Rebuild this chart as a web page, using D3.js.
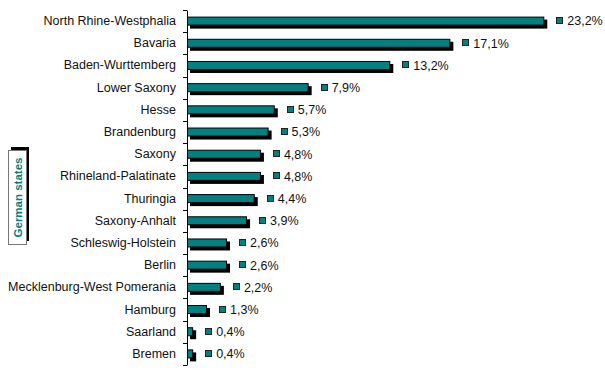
<!DOCTYPE html>
<html><head><meta charset="utf-8">
<script src="https://cdn.jsdelivr.net/npm/d3@7"></script>
<style>body{margin:0;background:#fff}svg{display:block}text{font-family:"Liberation Sans",Arial,sans-serif}</style>
</head><body>
<script>
const states = ["North Rhine-Westphalia","Bavaria","Baden-Wurttemberg","Lower Saxony","Hesse","Brandenburg","Saxony","Rhineland-Palatinate","Thuringia","Saxony-Anhalt","Schleswig-Holstein","Berlin","Mecklenburg-West Pomerania","Hamburg","Saarland","Bremen"];
const shares = [23.2,17.1,13.2,7.9,5.7,5.3,4.8,4.8,4.4,3.9,2.6,2.6,2.2,1.3,0.4,0.4];
const valueLabels = ["23,2%","17,1%","13,2%","7,9%","5,7%","5,3%","4,8%","4,8%","4,4%","3,9%","2,6%","2,6%","2,2%","1,3%","0,4%","0,4%"];
const axisTitle = "German states";

const W=605,H=377, teal="#008080";
const svg=d3.select("body").append("svg").attr("width",W).attr("height",H);
const x=d3.scaleLinear().domain([0,25]).range([187,187+25*15.4]);
const y=d3.scaleBand().domain(states).range([10,365]);
const bh=9;

const g=svg.append("g");
g.selectAll("rect.sh").data(states).join("rect")
 .attr("x",x(0)+3).attr("y",d=>y(d)+y.bandwidth()/2-bh/2+3)
 .attr("width",(d,i)=>x(shares[i])-x(0)).attr("height",bh).attr("fill","#000");
g.selectAll("rect.bar").data(states).join("rect")
 .attr("x",x(0)+0.5).attr("y",d=>y(d)+y.bandwidth()/2-bh/2+0.5)
 .attr("width",(d,i)=>x(shares[i])-x(0)-1).attr("height",bh-1)
 .attr("fill",teal).attr("stroke","#000").attr("stroke-width",1);

const ax=svg.append("g").attr("transform",`translate(${x(0)},0)`)
 .call(d3.axisLeft(y).tickSize(0).tickPadding(11));
ax.select(".domain").attr("stroke","#000");
ax.selectAll("text").attr("font-size",12.5).attr("fill","#111");
const edges=d3.range(states.length+1).map(i=>10+i*y.step());
svg.append("g").selectAll("line").data(edges).join("line")
 .attr("x1",x(0)-4).attr("x2",x(0)).attr("y1",d=>Math.round(d)+0.5).attr("y2",d=>Math.round(d)+0.5).attr("stroke","#000");

const lab=svg.append("g");
states.forEach((s,i)=>{
  const xe=x(shares[i]), cy=y(s)+y.bandwidth()/2;
  lab.append("rect").attr("x",Math.round(xe+12)+0.5).attr("y",Math.round(cy-4)+0.5).attr("width",6).attr("height",6)
    .attr("fill",teal).attr("stroke","#222").attr("stroke-width",1);
  lab.append("text").attr("x",xe+23).attr("y",cy).attr("dy","0.35em").attr("font-size",12.5).attr("fill","#111").text(valueLabels[i]);
});

const tb=svg.append("g");
tb.append("rect").attr("x",11).attr("y",147).attr("width",18).attr("height",94).attr("fill","#000");
tb.append("rect").attr("x",8.5).attr("y",150.5).attr("width",18).attr("height",94).attr("fill","#fff").attr("stroke","#777");
tb.append("text").attr("transform","translate(22,197.5) rotate(-90)").attr("text-anchor","middle")
 .attr("font-size",11.5).attr("font-weight","bold").attr("fill",teal).text(axisTitle);
</script>
</body></html>
